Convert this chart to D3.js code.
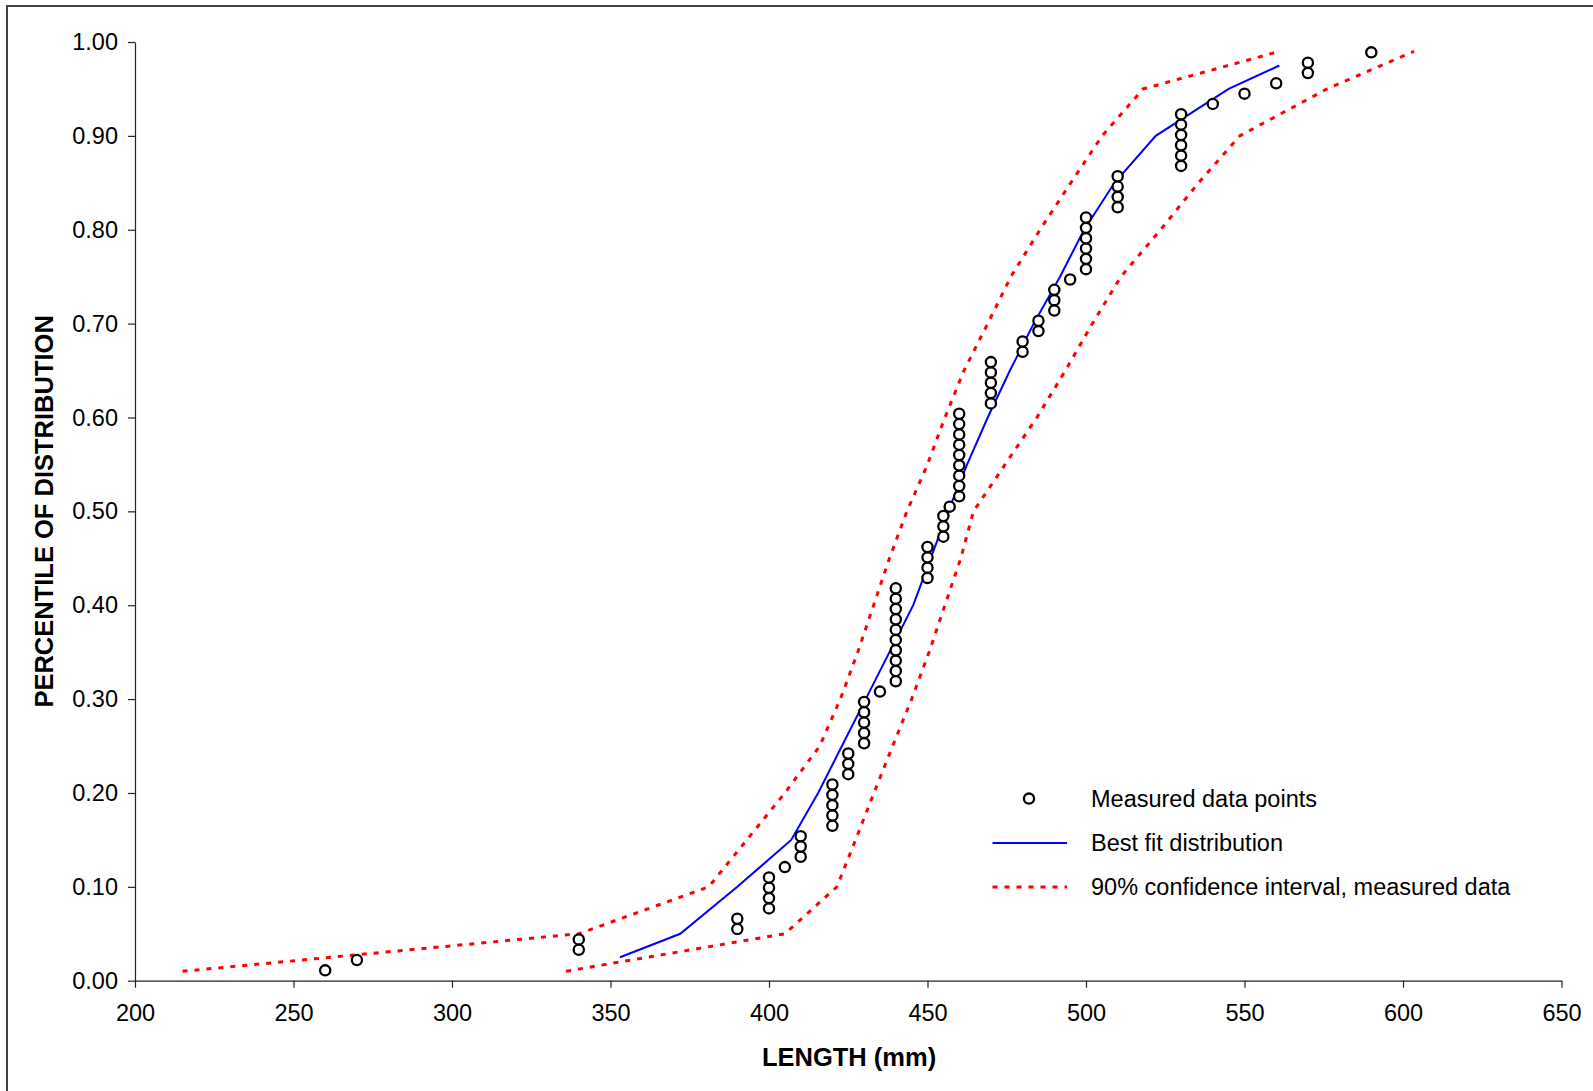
<!DOCTYPE html>
<html>
<head>
<meta charset="utf-8">
<script src="https://cdn.jsdelivr.net/npm/d3@7"></script>
<style>
  html, body { margin: 0; padding: 0; background: #fff; }
  svg { display: block; }
  text { font-family: "Liberation Sans", Arial, sans-serif; fill: #000; }
</style>
</head>
<body>
<svg id="chart" width="1593" height="1091"></svg>
<script>
// ---- Data ----
const measuredLength = [
  260, 270, 340, 340, 390, 390, 400, 400, 400, 400,
  405, 410, 410, 410, 420, 420, 420, 420, 420, 425,
  425, 425, 430, 430, 430, 430, 430, 435, 440, 440,
  440, 440, 440, 440, 440, 440, 440, 440, 450, 450,
  450, 450, 455, 455, 455, 457, 460, 460, 460, 460,
  460, 460, 460, 460, 460, 470, 470, 470, 470, 470,
  480, 480, 485, 485, 490, 490, 490, 495, 500, 500,
  500, 500, 500, 500, 510, 510, 510, 510, 530, 530,
  530, 530, 530, 530, 540, 550, 560, 570, 570, 590
];
const measuredPercentile = [
  0.011, 0.022, 0.033, 0.044, 0.055, 0.066, 0.077, 0.088, 0.099, 0.110,
  0.121, 0.132, 0.143, 0.154, 0.165, 0.176, 0.187, 0.198, 0.209, 0.220,
  0.231, 0.242, 0.253, 0.264, 0.275, 0.286, 0.297, 0.308, 0.319, 0.330,
  0.341, 0.352, 0.363, 0.374, 0.385, 0.396, 0.407, 0.418, 0.429, 0.440,
  0.451, 0.462, 0.473, 0.484, 0.495, 0.505, 0.516, 0.527, 0.538, 0.549,
  0.560, 0.571, 0.582, 0.593, 0.604, 0.615, 0.626, 0.637, 0.648, 0.659,
  0.670, 0.681, 0.692, 0.703, 0.714, 0.725, 0.736, 0.747, 0.758, 0.769,
  0.780, 0.791, 0.802, 0.813, 0.824, 0.835, 0.846, 0.857, 0.868, 0.879,
  0.890, 0.901, 0.912, 0.923, 0.934, 0.945, 0.956, 0.967, 0.978, 0.989
];

const fitLength = [353, 372, 390, 407, 415.5, 423, 430.5, 438, 445.5, 451, 456.5, 462.5, 469, 476, 483.5, 491.8, 499.4, 509, 522, 545, 561];
const fitPercentile = [0.025, 0.05, 0.10, 0.15, 0.20, 0.25, 0.30, 0.35, 0.40, 0.45, 0.50, 0.55, 0.60, 0.65, 0.70, 0.75, 0.80, 0.85, 0.90, 0.95, 0.975];

const ciUpperLength = [215, 340, 381, 393, 405, 416, 422.5, 428, 433, 438, 443.5, 450, 455.5, 461.5, 469, 476.3, 485.5, 495.2, 505.1, 518, 561];
const ciUpperPercentile = [0.01, 0.05, 0.10, 0.15, 0.20, 0.25, 0.30, 0.35, 0.40, 0.45, 0.50, 0.55, 0.60, 0.65, 0.70, 0.75, 0.80, 0.85, 0.90, 0.95, 0.99];

const ciLowerLength = [336, 353, 405, 421.4, 427.3, 433.1, 439, 445, 450.5, 455.5, 460.5, 464.5, 474.5, 484.5, 493.5, 502, 511, 523.5, 535.5, 548.5, 576, 603.5];
const ciLowerPercentile = [0.01, 0.02, 0.05, 0.10, 0.15, 0.20, 0.25, 0.30, 0.35, 0.40, 0.45, 0.50, 0.55, 0.60, 0.65, 0.70, 0.75, 0.80, 0.85, 0.90, 0.95, 0.99];

const xTicks = [200, 250, 300, 350, 400, 450, 500, 550, 600, 650];
const yTicks = [0.0, 0.1, 0.2, 0.3, 0.4, 0.5, 0.6, 0.7, 0.8, 0.9, 1.0];

const xTitle = "LENGTH (mm)";
const yTitle = "PERCENTILE OF DISTRIBUTION";
const legendLabels = ["Measured data points", "Best fit distribution", "90% confidence interval, measured data"];

// ---- Drawing ----
const svg = d3.select("#chart");

// outer frame (top and left edges visible)
svg.append("path")
  .attr("d", "M7,1100 L7,6 L1600,6")
  .attr("fill", "none")
  .attr("stroke", "#444")
  .attr("stroke-width", 2);

const x = d3.scaleLinear().domain([200, 650]).range([135, 1561.5]);
const y = d3.scaleLinear().domain([0, 1]).range([980.7, 42]);

const xAxis = d3.axisBottom(x).tickValues(xTicks).tickFormat(d3.format("d"))
  .tickSizeInner(7).tickSizeOuter(0).tickPadding(17);
const yAxis = d3.axisLeft(y).tickValues(yTicks).tickFormat(d3.format(".2f"))
  .tickSizeInner(7).tickSizeOuter(0).tickPadding(10);

const gx = svg.append("g").attr("transform", `translate(0,${y(0)})`).call(xAxis);
const gy = svg.append("g").attr("transform", `translate(${x(200)},0)`).call(yAxis);
[gx, gy].forEach(g => {
  g.selectAll("path.domain").attr("stroke", "#222").attr("stroke-width", 1.2);
  g.selectAll(".tick line").attr("stroke", "#222").attr("stroke-width", 1.2);
  g.selectAll(".tick text")
    .attr("font-family", '"Liberation Sans", Arial, sans-serif')
    .attr("font-size", 23.5).attr("fill", "#000");
});

// axis titles
svg.append("text")
  .attr("x", 849).attr("y", 1066)
  .attr("text-anchor", "middle")
  .attr("font-size", 25.5).attr("font-weight", "bold")
  .text(xTitle);
svg.append("text")
  .attr("transform", `translate(53,${(y(0) + y(1)) / 2}) rotate(-90)`)
  .attr("text-anchor", "middle")
  .attr("font-size", 25.5).attr("font-weight", "bold")
  .text(yTitle);

const line = d3.line().x(d => x(d[0])).y(d => y(d[1]));

const ciStyle = g => g.attr("fill", "none").attr("stroke", "#ff0000")
  .attr("stroke-width", 3).attr("stroke-dasharray", "5,7");

svg.append("path")
  .datum(ciUpperLength.map((v, i) => [v, ciUpperPercentile[i]]))
  .attr("d", line).call(ciStyle);
svg.append("path")
  .datum(ciLowerLength.map((v, i) => [v, ciLowerPercentile[i]]))
  .attr("d", line).call(ciStyle);

svg.append("path")
  .datum(fitLength.map((v, i) => [v, fitPercentile[i]]))
  .attr("d", line)
  .attr("fill", "none").attr("stroke", "#0000ff").attr("stroke-width", 2);

const markerR = 5.1;
svg.append("g").selectAll("circle")
  .data(measuredLength.map((v, i) => [v, measuredPercentile[i]]))
  .join("circle")
  .attr("cx", d => x(d[0])).attr("cy", d => y(d[1]))
  .attr("r", markerR)
  .attr("fill", "#fff").attr("stroke", "#000").attr("stroke-width", 2.3);

// legend
const legRows = [798.6, 843, 887];
const leg = svg.append("g");
leg.append("circle").attr("cx", 1029).attr("cy", legRows[0]).attr("r", markerR)
  .attr("fill", "#fff").attr("stroke", "#000").attr("stroke-width", 2.3);
leg.append("line").attr("x1", 992.5).attr("x2", 1067).attr("y1", legRows[1]).attr("y2", legRows[1])
  .attr("stroke", "#0000ff").attr("stroke-width", 2);
leg.append("line").attr("x1", 992.5).attr("x2", 1067).attr("y1", legRows[2]).attr("y2", legRows[2])
  .call(ciStyle);
legendLabels.forEach((t, i) => {
  leg.append("text").attr("x", 1091).attr("y", legRows[i]).attr("dy", "0.35em")
    .attr("font-size", 23.5).text(t);
});
</script>
</body>
</html>
